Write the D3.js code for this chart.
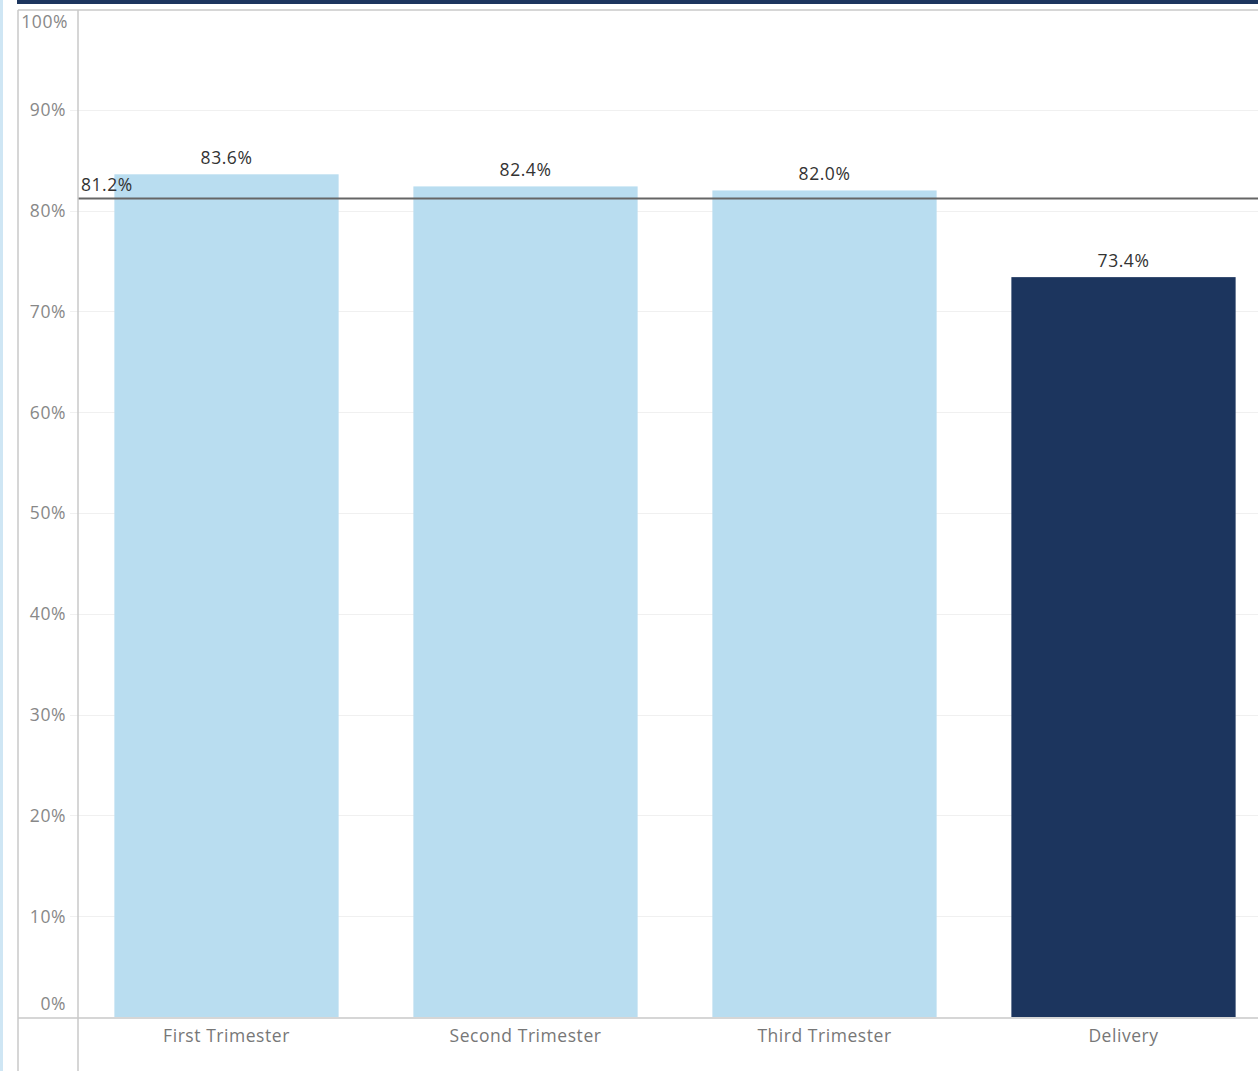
<!DOCTYPE html>
<html><head><meta charset="utf-8">
<script src="https://cdn.jsdelivr.net/npm/d3@7"></script>
<style>
html,body{margin:0;padding:0;background:#fff;overflow:hidden;}
svg{display:block;}
text{font-family:"Open Sans","Noto Sans",sans-serif;letter-spacing:0.55px;}
</style></head>
<body>
<script>
const categories = ["First Trimester","Second Trimester","Third Trimester","Delivery"];
const values = [83.6, 82.4, 82.0, 73.4];
const highlight = [false, false, false, true];
const referenceValue = 81.2;
const tickValues = [0,10,20,30,40,50,60,70,80,90,100];

(function(){
const W = 1258, H = 1071;
const FS = 17.5;
const svg = d3.select("body").append("svg").attr("width", W).attr("height", H);

const plotLeft = 78, plotTop = 10, plotBottom = 1017;
const x = d3.scaleBand().domain(categories).range([plotLeft - 1, plotLeft - 1 + 4*299]).paddingInner(0.25).paddingOuter(0.125);
const y = d3.scaleLinear().domain([0,100]).range([plotBottom, plotTop - 1]);

// left accent strip
svg.append("rect").attr("x",0).attr("y",0).attr("width",3).attr("height",H).attr("fill","#cfe6f4");
// top navy bar
svg.append("rect").attr("x",17).attr("y",0).attr("width",W-17).attr("height",4).attr("fill","#1c355e");

// gridlines
svg.append("g").selectAll("line").data(tickValues.filter(d=>d>0 && d<100)).join("line")
  .attr("x1",70).attr("x2",W).attr("y1",d=>Math.round(y(d))+0.5).attr("y2",d=>Math.round(y(d))+0.5)
  .attr("stroke","#f0f0f0").attr("stroke-width",1);

// bars
svg.append("g").selectAll("rect").data(values).join("rect")
  .attr("x",(d,i)=>x(categories[i]))
  .attr("width",x.bandwidth())
  .attr("y",d=>y(d))
  .attr("height",d=>plotBottom - y(d))
  .attr("fill",(d,i)=>highlight[i] ? "#1c355e" : "#b9ddf0");

// reference line
svg.append("line").attr("x1",plotLeft).attr("x2",W).attr("y1",y(referenceValue)).attr("y2",y(referenceValue))
  .attr("stroke","#666").attr("stroke-width",2);
svg.append("text").attr("x",81).attr("y",y(referenceValue)-7.5)
  .attr("font-size",FS).attr("fill","#333").text(referenceValue.toFixed(1)+"%");

// value labels
svg.append("g").selectAll("text").data(values).join("text")
  .attr("x",(d,i)=>x(categories[i]) + x.bandwidth()/2)
  .attr("y",d=>y(d)-10)
  .attr("text-anchor","middle").attr("font-size",FS).attr("fill","#333")
  .text(d=>d.toFixed(1)+"%");

// y axis
const yAxis = d3.axisLeft(y).tickValues(tickValues).tickSize(0).tickPadding(12).tickFormat(d=>d+"%");
const gy = svg.append("g").attr("transform",`translate(${plotLeft},0)`).call(yAxis);
gy.select(".domain").remove();
gy.selectAll("text").attr("font-size",FS).attr("fill","#888")
  .attr("dy",d=> d===100 ? "1.05em" : (d===0 ? "-0.45em" : "0.34em"))
  .attr("x",d=> d===100 ? -10 : -12);

// x axis
const xAxis = d3.axisBottom(x).tickSize(0).tickPadding(11);
const gx = svg.append("g").attr("transform",`translate(0,${plotBottom})`).call(xAxis);
gx.select(".domain").remove();
gx.selectAll("text").attr("font-size",FS).attr("fill","#777").attr("dy","0.8em");

// frame lines
const frame = svg.append("g").attr("stroke","#c8c8c8").attr("stroke-width",1.5).attr("fill","none");
frame.append("line").attr("x1",18).attr("x2",W).attr("y1",plotTop).attr("y2",plotTop);
frame.append("line").attr("x1",18).attr("x2",18).attr("y1",plotTop).attr("y2",H);
frame.append("line").attr("x1",plotLeft).attr("x2",plotLeft).attr("y1",plotTop).attr("y2",H);
frame.append("line").attr("x1",18).attr("x2",W).attr("y1",plotBottom+1).attr("y2",plotBottom+1);
})();
</script>
</body></html>
